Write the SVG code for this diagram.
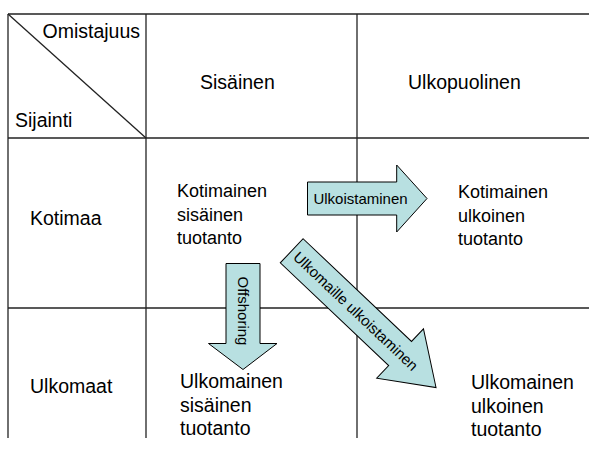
<svg xmlns="http://www.w3.org/2000/svg" width="589" height="466" viewBox="0 0 589 466">
<style>
.grid{stroke:#222;stroke-width:1.3;fill:none}
.t{font-family:"Liberation Sans",Arial,sans-serif;font-size:19.5px;fill:#000}
.c{font-family:"Liberation Sans",Arial,sans-serif;font-size:18px;fill:#000}
.arrow{fill:#b8e0e1;stroke:#000;stroke-width:1}
.at{font-family:"Liberation Sans",Arial,sans-serif;font-size:15px;fill:#000;text-anchor:middle}
</style>
<rect width="589" height="466" fill="#fff"/>
<g id="grid" class="grid">
<line x1="8" y1="14" x2="589" y2="14"/>
<line x1="8" y1="138" x2="589" y2="138"/>
<line x1="8" y1="308" x2="589" y2="308"/>
<line x1="8" y1="14" x2="8" y2="438"/>
<line x1="146" y1="14" x2="146" y2="438"/>
<line x1="357" y1="14" x2="357" y2="438"/>
<line x1="8" y1="14" x2="146" y2="138"/>
</g>
<g id="headers">
<text class="t" x="140" y="38" text-anchor="end">Omistajuus</text>
<text class="t" x="15" y="127">Sijainti</text>
<text class="t" x="200" y="89">Sisäinen</text>
<text class="t" x="408" y="89">Ulkopuolinen</text>
<text class="t" x="30" y="225">Kotimaa</text>
<text class="t" x="30" y="393">Ulkomaat</text>
</g>
<g id="node-kotimainen-sisainen">
<text class="c" x="177" y="197">Kotimainen<tspan x="177" dy="23.5">sisäinen</tspan><tspan x="177" dy="23.5">tuotanto</tspan></text>
</g>
<g id="node-kotimainen-ulkoinen">
<text class="c" x="458" y="198">Kotimainen<tspan x="458" dy="23.5">ulkoinen</tspan><tspan x="458" dy="23.5">tuotanto</tspan></text>
</g>
<g id="node-ulkomainen-sisainen">
<text class="t" x="180" y="388">Ulkomainen<tspan x="180" dy="23.5">sisäinen</tspan><tspan x="180" dy="23.5">tuotanto</tspan></text>
</g>
<g id="node-ulkomainen-ulkoinen">
<text class="t" x="471" y="389">Ulkomainen<tspan x="471" dy="23.5">ulkoinen</tspan><tspan x="471" dy="23.5">tuotanto</tspan></text>
</g>
<g id="connectors">
<g id="arrow-ulkoistaminen">
<path class="arrow" d="M307.5,182 H396.7 V165 L427,198.5 L396.7,232 V215 H307.5 Z"/>
<text class="at" x="360.5" y="203.5">Ulkoistaminen</text>
</g>
<g id="arrow-offshoring">
<path class="arrow" d="M226,263.5 H260 V343.5 H277 L243,369.5 L208.5,343.5 H226 Z"/>
<text class="at" transform="translate(243,311) rotate(90)" x="0" y="5">Offshoring</text>
</g>
<g id="arrow-ulkomaille" transform="translate(291.7,250.8) rotate(43.45)">
<path class="arrow" d="M0,-16.6 L149.3,-16.6 L149.3,-34 L198.8,0 L149.3,34 L149.3,16.6 L0,16.6 Z"/>
<text class="at" x="88" y="5">Ulkomaille ulkoistaminen</text>
</g>
</g>
</svg>
